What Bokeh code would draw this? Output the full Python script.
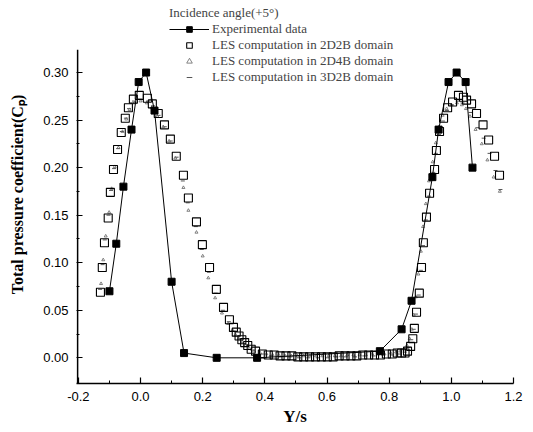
from bokeh.plotting import figure
from bokeh.models import Range1d, FixedTicker, PrintfTickFormatter, Legend, LegendItem, BoxAnnotation
from bokeh.embed import file_html
from bokeh.resources import INLINE

# ---------------- data ----------------
exp_x = [-0.100, -0.078, -0.055, -0.029, -0.006, 0.018, 0.045, 0.100, 0.140, 0.245,
         0.375, 0.770, 0.840, 0.872, 0.939, 0.959, 0.991, 1.017, 1.046, 1.068]
exp_y = [0.070, 0.120, 0.180, 0.240, 0.290, 0.300, 0.260, 0.080, 0.005, 0.000,
         0.000, 0.007, 0.030, 0.060, 0.190, 0.240, 0.290, 0.300, 0.290, 0.200]

les_2d2b_x = [-0.129, -0.123, -0.116, -0.104, -0.097, -0.087, -0.074, -0.062, -0.049, -0.039,
              -0.023, -0.004, 0.022, 0.038, 0.057, 0.077, 0.096, 0.115, 0.138, 0.154,
              0.180, 0.199, 0.222, 0.244, 0.267, 0.286, 0.299, 0.308, 0.317, 0.326,
              0.335, 0.345, 0.356, 0.370, 0.392, 0.411, 0.430, 0.449, 0.468, 0.487,
              0.506, 0.525, 0.544, 0.563, 0.582, 0.601, 0.620, 0.639, 0.658, 0.677,
              0.696, 0.715, 0.734, 0.753, 0.772, 0.791, 0.810, 0.826, 0.840, 0.851,
              0.859, 0.869, 0.876, 0.881, 0.888, 0.897, 0.904, 0.910, 0.920, 0.930,
              0.946, 0.952, 0.962, 0.975, 0.988, 1.004, 1.023, 1.039, 1.049, 1.065,
              1.081, 1.102, 1.120, 1.139, 1.155]
les_2d2b_y = [0.069, 0.095, 0.121, 0.147, 0.174, 0.198, 0.219, 0.237, 0.252, 0.263,
              0.272, 0.276, 0.273, 0.267, 0.257, 0.245, 0.230, 0.212, 0.192, 0.168,
              0.143, 0.119, 0.095, 0.072, 0.053, 0.040, 0.032, 0.027, 0.023, 0.019,
              0.016, 0.013, 0.009, 0.007, 0.004, 0.003, 0.003, 0.002, 0.002, 0.002,
              0.001, 0.001, 0.001, 0.001, 0.001, 0.001, 0.001, 0.002, 0.002, 0.002,
              0.002, 0.003, 0.003, 0.003, 0.003, 0.004, 0.004, 0.005, 0.005, 0.005,
              0.007, 0.012, 0.020, 0.031, 0.048, 0.068, 0.095, 0.121, 0.148, 0.173,
              0.198, 0.218, 0.238, 0.252, 0.263, 0.269, 0.276, 0.274, 0.271, 0.267,
              0.257, 0.245, 0.229, 0.212, 0.192]

les_2d4b_x = [-0.127, -0.120, -0.112, -0.101, -0.093, -0.083, -0.071, -0.058, -0.046, -0.035,
              -0.019, 0.000, 0.020, 0.036, 0.054, 0.073, 0.092, 0.112, 0.138, 0.154,
              0.180, 0.200, 0.218, 0.240, 0.262, 0.282, 0.296, 0.306, 0.316, 0.327,
              0.338, 0.350, 0.365, 0.385, 0.405, 0.425, 0.445, 0.465, 0.485, 0.505,
              0.525, 0.545, 0.565, 0.585, 0.605, 0.625, 0.645, 0.665, 0.685, 0.705,
              0.725, 0.745, 0.765, 0.785, 0.805, 0.822, 0.836, 0.848, 0.857, 0.866,
              0.873, 0.879, 0.886, 0.894, 0.902, 0.909, 0.918, 0.928, 0.940, 0.950,
              0.960, 0.972, 0.985, 1.000, 1.018, 1.034, 1.047, 1.060, 1.078, 1.098,
              1.116, 1.136, 1.156]
les_2d4b_y = [0.078, 0.103, 0.128, 0.153, 0.178, 0.201, 0.221, 0.238, 0.251, 0.261,
              0.268, 0.270, 0.268, 0.263, 0.254, 0.243, 0.228, 0.210, 0.179, 0.155,
              0.132, 0.107, 0.084, 0.063, 0.047, 0.036, 0.029, 0.024, 0.020, 0.017,
              0.013, 0.010, 0.007, 0.005, 0.004, 0.003, 0.003, 0.002, 0.002, 0.002,
              0.002, 0.002, 0.002, 0.002, 0.002, 0.002, 0.002, 0.003, 0.003, 0.003,
              0.003, 0.004, 0.004, 0.004, 0.005, 0.006, 0.007, 0.009, 0.013, 0.020,
              0.030, 0.045, 0.064, 0.088, 0.112, 0.138, 0.162, 0.186, 0.206, 0.226,
              0.243, 0.255, 0.262, 0.266, 0.268, 0.266, 0.262, 0.254, 0.240, 0.225,
              0.208, 0.190, 0.175]

les_3d2b_x = [-0.130, -0.122, -0.115, -0.103, -0.095, -0.085, -0.072, -0.060, -0.047, -0.037,
              -0.021, -0.002, 0.024, 0.040, 0.058, 0.078, 0.097, 0.116, 0.136, 0.152,
              0.178, 0.197, 0.220, 0.242, 0.265, 0.284, 0.300, 0.320, 0.340, 0.360,
              0.390, 0.420, 0.450, 0.480, 0.510, 0.540, 0.570, 0.600, 0.630, 0.660,
              0.690, 0.720, 0.750, 0.780, 0.810, 0.835, 0.850, 0.862, 0.871, 0.879,
              0.886, 0.895, 0.902, 0.909, 0.918, 0.928, 0.942, 0.950, 0.960, 0.973,
              0.986, 1.002, 1.020, 1.036, 1.062, 1.084, 1.104, 1.123, 1.142, 1.158]
les_3d2b_y = [0.072, 0.098, 0.124, 0.150, 0.176, 0.199, 0.220, 0.238, 0.252, 0.262,
              0.270, 0.272, 0.270, 0.265, 0.255, 0.243, 0.228, 0.211, 0.186, 0.163,
              0.138, 0.114, 0.090, 0.068, 0.050, 0.038, 0.028, 0.020, 0.014, 0.008,
              0.004, 0.002, 0.001, 0.001, 0.000, 0.000, 0.000, 0.000, 0.001, 0.001,
              0.001, 0.002, 0.002, 0.003, 0.003, 0.004, 0.006, 0.011, 0.019, 0.030,
              0.046, 0.066, 0.092, 0.118, 0.145, 0.170, 0.195, 0.215, 0.235, 0.249,
              0.260, 0.266, 0.270, 0.268, 0.258, 0.242, 0.231, 0.215, 0.197, 0.177]

x_major = [-0.2, 0.0, 0.2, 0.4, 0.6, 0.8, 1.0, 1.2]
x_minor = [-0.1, 0.1, 0.3, 0.5, 0.7, 0.9, 1.1]
y_major = [0.00, 0.05, 0.10, 0.15, 0.20, 0.25, 0.30]
y_minor = [0.025, 0.075, 0.125, 0.175, 0.225, 0.275]

# axis extents (the drawn y-axis line stops at the top of the data area)
x_lo, x_hi = -0.2, 1.2
y_lo, y_axis_top, y_frame_top = -0.027, 0.324, 0.3705

legend_title = "Incidence angle(+5°)"
labels = ["Experimental data",
          "LES computation in 2D2B domain",
          "LES computation in 2D4B domain",
          "LES computation in 3D2B domain"]

# ---------------- figure ----------------
p = figure(width=533, height=432, output_backend="svg", toolbar_location=None,
           x_range=Range1d(x_lo - 0.006, x_hi), y_range=Range1d(y_lo, y_frame_top),
           min_border_left=76, min_border_right=20, min_border_top=5, min_border_bottom=49,
           background_fill_color="white", border_fill_color="white")
p.outline_line_color = None
p.grid.visible = False

# y-axis line (only up to the data area top, as in the original)
p.add_layout(BoxAnnotation(left=x_lo - 0.0052, right=x_lo, bottom=y_lo, top=y_axis_top,
                           fill_color="black", fill_alpha=1.0, line_color=None))

# LES series
r3 = p.scatter(les_3d2b_x, les_3d2b_y, marker="dash", size=4, line_color="#555555", line_width=1)
r2 = p.scatter(les_2d4b_x, les_2d4b_y, marker="triangle", size=3, line_color="#666666",
               fill_color=None, line_width=0.8)
r1 = p.scatter(les_2d2b_x, les_2d2b_y, marker="square", size=8, line_color="black",
               fill_color="white", fill_alpha=0.0, line_width=1.1)

# experimental
rl = p.line(exp_x, exp_y, line_color="black", line_width=1)
rs = p.scatter(exp_x, exp_y, marker="square", size=7, line_color="black", fill_color="black")

# axes
for ax in (p.xaxis[0], p.yaxis[0]):
    ax.axis_line_width = 1.5
    ax.axis_line_color = "black"
    ax.major_tick_in = 6
    ax.major_tick_out = 0
    ax.minor_tick_in = 3
    ax.minor_tick_out = 0
    ax.major_tick_line_width = 1.2
    ax.minor_tick_line_width = 1
    ax.major_label_text_font = "Liberation Sans"
    ax.major_label_text_font_size = "13px"
    ax.major_label_text_color = "black"
    ax.axis_label_text_font = "Liberation Serif"
    ax.axis_label_text_font_style = "bold"
    ax.axis_label_text_color = "black"
p.yaxis[0].axis_line_color = None

p.xaxis[0].ticker = FixedTicker(ticks=x_major, minor_ticks=x_minor)
p.yaxis[0].ticker = FixedTicker(ticks=y_major, minor_ticks=y_minor)
p.xaxis[0].formatter = PrintfTickFormatter(format="%.1f")
p.yaxis[0].formatter = PrintfTickFormatter(format="%.2f")
p.xaxis[0].axis_label = "Y/s"
p.yaxis[0].axis_label = "Total pressure coefficient(Cₚ)"
p.xaxis[0].axis_label_text_font_size = "17px"
p.yaxis[0].axis_label_text_font_size = "16px"
p.xaxis[0].major_label_standoff = 8
p.yaxis[0].major_label_standoff = 8
p.xaxis[0].axis_label_standoff = 3
p.yaxis[0].axis_label_standoff = 14

legend = Legend(items=[LegendItem(label=labels[0], renderers=[rl, rs]),
                       LegendItem(label=labels[1], renderers=[r1]),
                       LegendItem(label=labels[2], renderers=[r2]),
                       LegendItem(label=labels[3], renderers=[r3])],
                location=(93, 298), title=legend_title)
legend.title_text_font = "Liberation Serif"
legend.title_text_font_size = "13px"
legend.title_text_font_style = "normal"
legend.title_standoff = 0
legend.label_text_font = "Liberation Serif"
legend.label_text_font_size = "13px"
legend.glyph_width = 40
legend.glyph_height = 14
legend.label_height = 14
legend.label_standoff = 3
legend.spacing = 0
legend.padding = 0
legend.margin = 0
legend.border_line_alpha = 0
legend.background_fill_alpha = 0
p.add_layout(legend, "center")

open("out.html", "w").write(file_html(p, INLINE))
